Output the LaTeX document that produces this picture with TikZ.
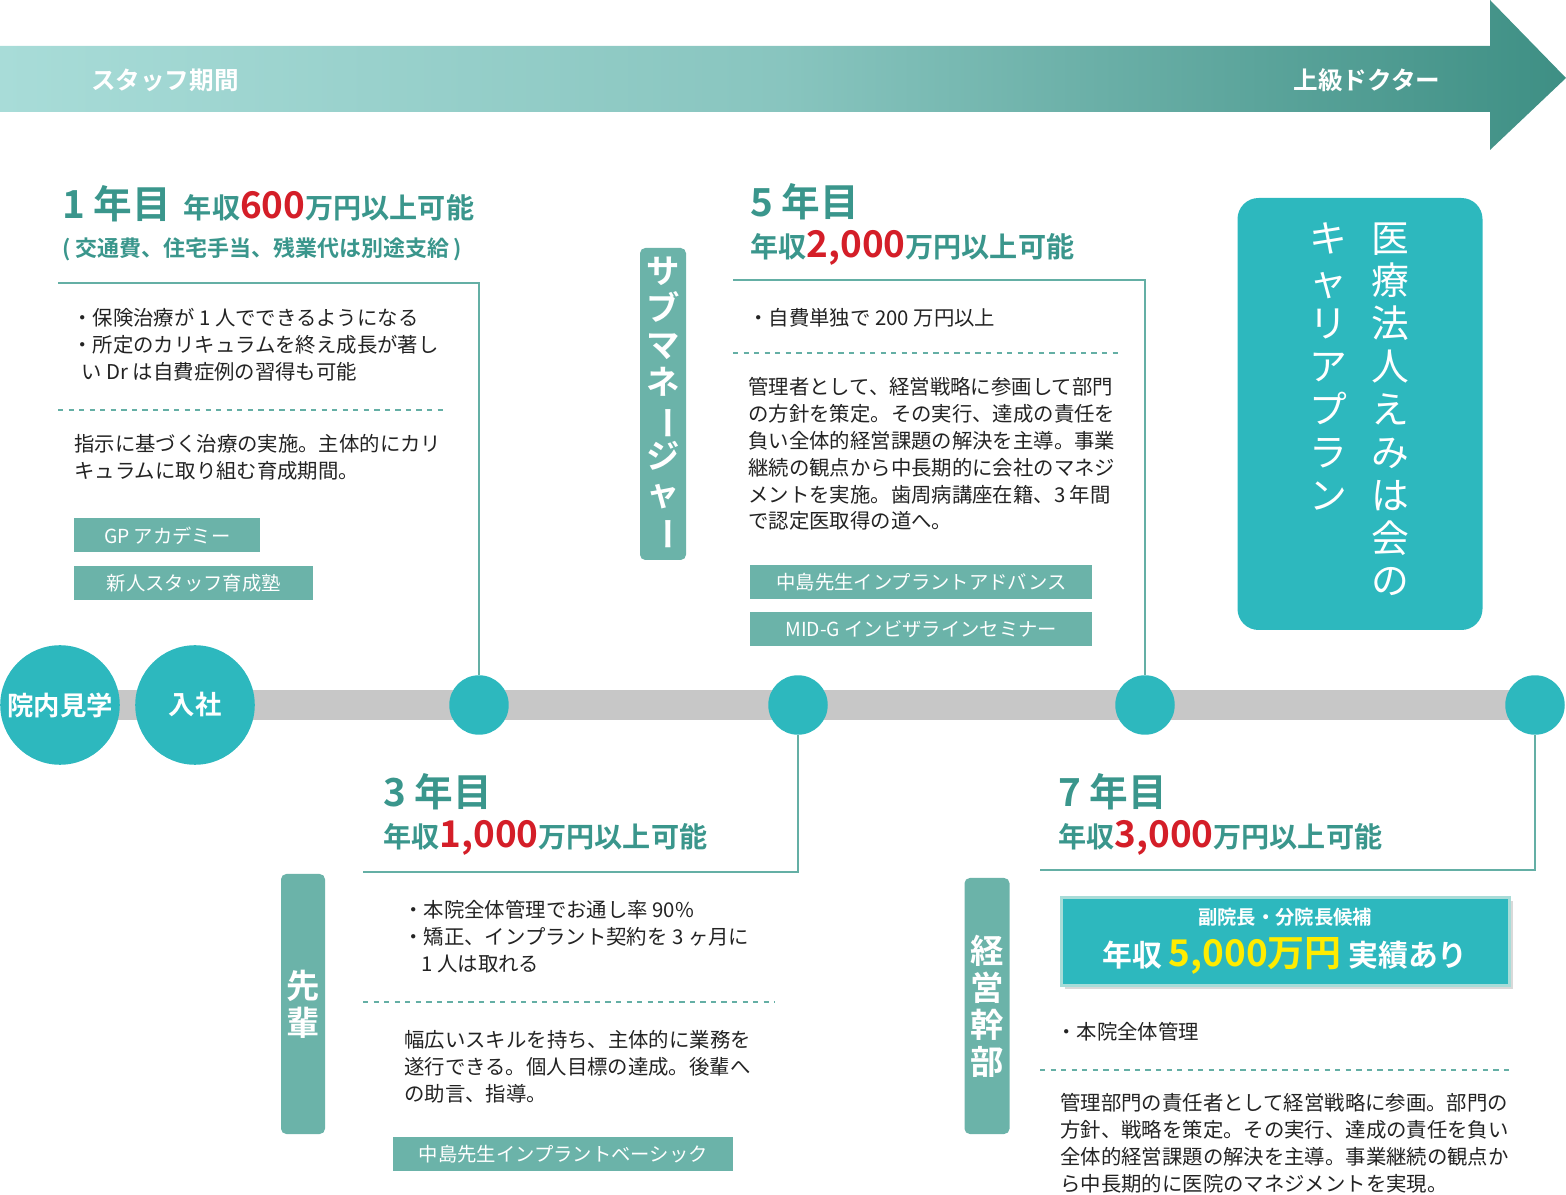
\documentclass[tikz,border=0pt]{standalone}
\usepackage{fontspec}
\usepackage{graphicx}
\setmainfont{Noto Sans CJK JP}
\newfontfamily\jpbold{Noto Sans CJK JP Bold}
\usetikzlibrary{shapes,shadows}
\definecolor{bar_light}{RGB}{168, 220, 216}
\definecolor{bar_dark}{RGB}{62, 143, 132}
\definecolor{dot_teal}{RGB}{45, 184, 190}
\definecolor{tag_green}{RGB}{107, 179, 169}
\definecolor{head_teal}{RGB}{58, 150, 140}
\definecolor{line_teal}{RGB}{100, 175, 165}
\definecolor{pay_red}{RGB}{212, 30, 40}
\definecolor{pay_yellow}{RGB}{255, 236, 0}
\definecolor{text_dark}{RGB}{35, 35, 35}
\tikzstyle{big}=[circle,fill=dot_teal,minimum size=120pt*0.02/0.0352778,inner sep=0pt,
  text=white,font=\jpbold\fontsize{15}{15}\selectfont]
\tikzstyle{dot}=[circle,fill=dot_teal,minimum size=1.7cm*0.7,inner sep=0pt]
\tikzstyle{tag}=[rectangle,fill=tag_green,text=white,anchor=north west,inner sep=0pt,
  font=\fontsize{11}{11}\selectfont]
\tikzstyle{vtag}=[rectangle,rounded corners=3pt,fill=tag_green,text=white,inner sep=0pt,
  font=\jpbold\fontsize{19}{21}\selectfont,align=center]
\tikzstyle{body}=[anchor=north west,inner sep=0pt,text=text_dark,align=left,
  font=\fontsize{11.6}{15.3}\selectfont]
\tikzstyle{head}=[anchor=west,inner sep=0pt,text=head_teal,font=\jpbold\fontsize{16}{16}\selectfont]
\tikzstyle{conn}=[line_teal,line width=1.2pt]
\tikzstyle{sep}=[line_teal,line width=0.9pt,dash pattern=on 3pt off 3pt]
\newcommand{\yr}[1]{{\fontsize{22}{22}\selectfont #1}}
\newcommand{\pay}[1]{{\color{pay_red}\fontsize{21}{21}\selectfont #1}}
\newcommand{\vbar}{\rotatebox[origin=c]{-90}{ー}}
\begin{document}
\begin{tikzpicture}[x=0.02cm,y=-0.02cm]
  \useasboundingbox (0,0) rectangle (1566,1195);
  % top arrow
  \shade[left color=bar_light,right color=bar_dark,middle color=bar_light!70!bar_dark]
    (0,46) -- (1490,46) -- (1490,0) -- (1566,78) -- (1490,150) -- (1490,112) -- (0,112) -- cycle;
  \node[text=white,font=\jpbold\fontsize{14}{14}\selectfont] (staff) at (165,80) {スタッフ期間};
  \node[text=white,font=\jpbold\fontsize{14}{14}\selectfont] (senior) at (1367,80) {上級ドクター};
  % timeline
  \fill[black!22] (60,690) rectangle (1535,720);
  \node[big] (visit) at (60,705) {院内見学};
  \node[big] (join) at (195,705) {入社};
  \node[dot] (y1) at (479,705) {};
  \node[dot] (y3) at (798,705) {};
  \node[dot] (y5) at (1145,705) {};
  \node[dot] (y7) at (1535,705) {};
  \coordinate (c1a) at (479,283); \coordinate (c1b) at (58,283);
  \coordinate (c3a) at (798,872); \coordinate (c3b) at (363,872);
  \coordinate (c5a) at (1145,280); \coordinate (c5b) at (733,280);
  \coordinate (c7a) at (1535,870); \coordinate (c7b) at (1040,870);
  \draw[conn] (y1) -- (c1a) -- (c1b);
  \draw[conn] (y3) -- (c3a) -- (c3b);
  \draw[conn] (y5) -- (c5a) -- (c5b);
  \draw[conn] (y7) -- (c7a) -- (c7b);
  % 1st year
  \node[head] (h1) at (62,204) {\yr{1 年目}\ \ 年収\pay{600}万円以上可能};
  \node[head,font=\jpbold\fontsize{12.5}{12.5}\selectfont] (h1s) at (62,249) {( 交通費、住宅手当、残業代は別途支給 )};
  \node[body] (b1a) at (72,308) {・保険治療が 1 人でできるようになる\\・所定のカリキュラムを終え成長が著し\\\ \ い Dr は自費症例の習得も可能};
  \draw[sep] (58,410) -- (448,410);
  \node[body] (b1b) at (74,434) {指示に基づく治療の実施。主体的にカリ\\キュラムに取り組む育成期間。};
  \node[tag,minimum width=186*0.02cm,minimum height=34*0.02cm] (gp) at (74,518) {GP アカデミー};
  \node[tag,minimum width=239*0.02cm,minimum height=34*0.02cm] (new) at (74,566) {新人スタッフ育成塾};
  % 3rd year
  \node[head] (h3) at (383,792) {\yr{3 年目}};
  \node[head] (h3p) at (383,838) {年収\pay{1,000}万円以上可能};
  \node[body] (b3a) at (403,900) {・本院全体管理でお通し率 90\%\\・矯正、インプラント契約を 3 ヶ月に\\\ \ \ \ 1 人は取れる};
  \draw[sep] (363,1002) -- (775,1002);
  \node[body] (b3b) at (404,1030) {幅広いスキルを持ち、主体的に業務を\\遂行できる。個人目標の達成。後輩へ\\の助言、指導。};
  \node[tag,minimum width=340*0.02cm,minimum height=34*0.02cm] (basic) at (393,1137) {中島先生インプラントベーシック};
  % 5th year
  \node[head] (h5) at (750,202) {\yr{5 年目}};
  \node[head] (h5p) at (750,248) {年収\pay{2,000}万円以上可能};
  \node[body] (b5a) at (748,308) {・自費単独で 200 万円以上};
  \draw[sep] (733,353) -- (1123,353);
  \node[body] (b5b) at (748,377) {管理者として、経営戦略に参画して部門\\の方針を策定。その実行、達成の責任を\\負い全体的経営課題の解決を主導。事業\\継続の観点から中長期的に会社のマネジ\\メントを実施。歯周病講座在籍、3 年間\\で認定医取得の道へ。};
  \node[tag,minimum width=342*0.02cm,minimum height=34*0.02cm] (adv) at (750,565) {中島先生インプラントアドバンス};
  \node[tag,minimum width=342*0.02cm,minimum height=34*0.02cm] (midg) at (750,612) {MID-G インビザラインセミナー};
  % 7th year
  \node[head] (h7) at (1058,792) {\yr{7 年目}};
  \node[head] (h7p) at (1058,838) {年収\pay{3,000}万円以上可能};
  \node[rectangle,fill=dot_teal,draw=bar_light,line width=1.5pt,drop shadow={shadow xshift=2pt,shadow yshift=-2pt,opacity=0.3},
    minimum width=448*0.02cm,minimum height=88*0.02cm,anchor=north west] (vice) at (1060,896) {};
  \node[text=white,font=\jpbold\fontsize{11}{11}\selectfont] (vice1) at (1285,917) {副院長・分院長候補};
  \node[text=white,font=\jpbold\fontsize{17}{17}\selectfont] (vice2) at (1285,956)
    {年収 {\color{pay_yellow}\fontsize{21}{21}\selectfont 5,000万円} 実績あり};
  \node[body] (b7a) at (1056,1022) {・本院全体管理};
  \draw[sep] (1040,1070) -- (1510,1070);
  \node[body] (b7b) at (1060,1093) {管理部門の責任者として経営戦略に参画。部門の\\方針、戦略を策定。その実行、達成の責任を負い\\全体的経営課題の解決を主導。事業継続の観点か\\ら中長期的に医院のマネジメントを実現。};
  % vertical role tags
  \node[vtag,minimum width=46*0.02cm,minimum height=312*0.02cm] (sub) at (663,404)
    {サ\\ブ\\マ\\ネ\\\vbar\\ジ\\ャ\\\vbar};
  \node[vtag,minimum width=44*0.02cm,minimum height=260*0.02cm] (sen) at (303,1004) {先\\輩};
  \node[vtag,minimum width=45*0.02cm,minimum height=256*0.02cm] (exec) at (987,1006) {経\\営\\幹\\部};
  % career plan box
  \node[rectangle,rounded corners=12pt,fill=dot_teal,minimum width=245*0.02cm,
    minimum height=432*0.02cm] (plan) at (1360,414) {};
  \node[text=white,font=\fontsize{21.5}{24.4}\selectfont,align=center,anchor=north,inner sep=0pt] (plan1) at (1390,222)
    {医\\療\\法\\人\\え\\み\\は\\会\\の};
  \node[text=white,font=\fontsize{21.5}{24.4}\selectfont,align=center,anchor=north,inner sep=0pt] (plan2) at (1328,222)
    {キ\\ャ\\リ\\ア\\プ\\ラ\\ン};
\end{tikzpicture}
\end{document}
